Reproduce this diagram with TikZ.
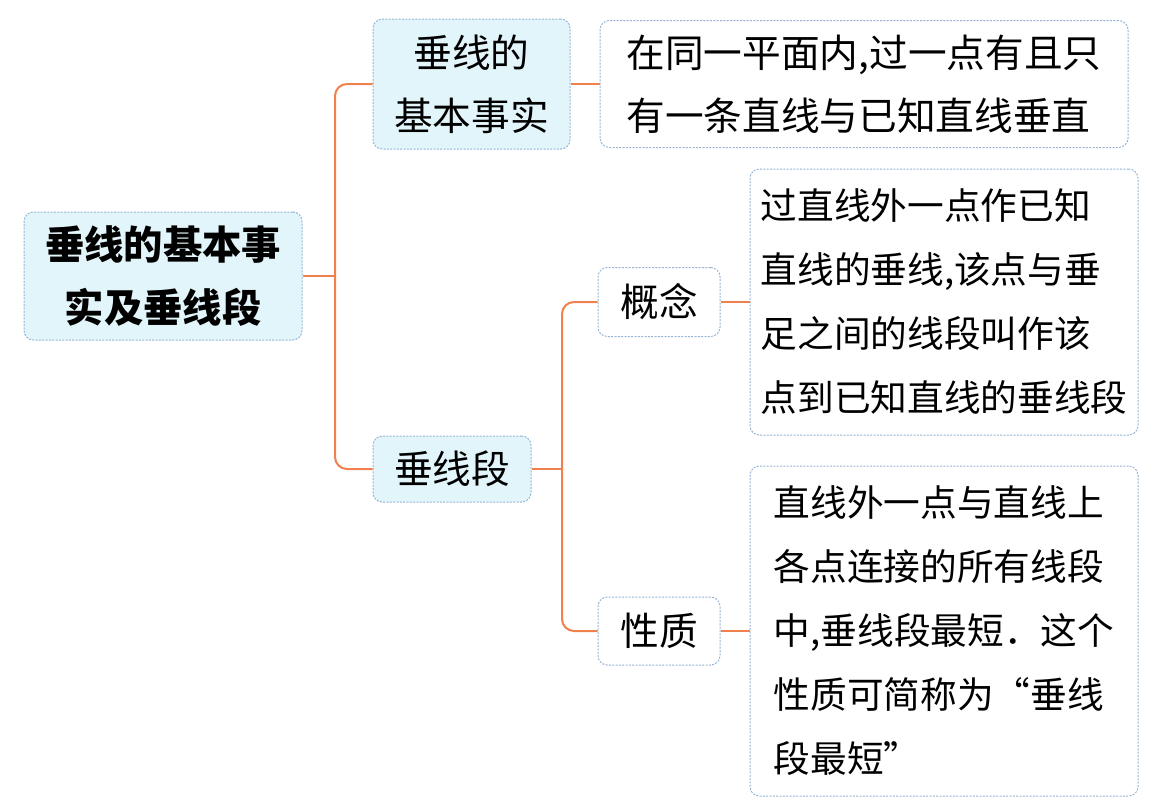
\documentclass[tikz,border=0pt]{standalone}
\usepackage{fontspec}
\setmainfont{Noto Sans CJK SC}
\tikzset{every picture/.style={line width=0.75pt}}
\definecolor{boxline}{RGB}{150,180,212}
\definecolor{boxfill}{RGB}{226,245,250}
\definecolor{branch}{RGB}{240,128,78}
\tikzset{
  topic/.style={draw=boxline, dash pattern=on 1.5pt off 1pt, rounded corners=7pt, fill=boxfill, align=center, inner sep=0pt, font=\fontsize{29}{47}\selectfont},
  leaf/.style={topic, fill=white, align=left, font=\fontsize{27.5}{48}\selectfont},
  conn/.style={draw=branch, line width=1.5pt, rounded corners=9pt}
}
\begin{document}
\begin{tikzpicture}[x=0.75pt,y=0.75pt,yscale=-1,xscale=1]
\useasboundingbox (0,0) rectangle (1174,803);

% Topic boxes
\node [topic, minimum width=208.5pt, minimum height=96pt, font=\fontsize{29.5}{47}\selectfont\bfseries] (root) at (163,276) {垂线的基本事\\实及垂线段};
\node [topic, minimum width=147.75pt, minimum height=97.5pt] (fact) at (471.5,84) {垂线的\\基本事实};
\node [topic, minimum width=118.5pt, minimum height=49.5pt] (seg) at (452,469) {垂线段};
\node [topic, fill=white, minimum width=91.5pt, minimum height=51.75pt] (concept) at (659,302) {概念};
\node [topic, fill=white, minimum width=91.5pt, minimum height=51pt] (prop) at (659,631) {性质};

% Leaf texts
\node [leaf, minimum width=396pt, minimum height=95.25pt, font=\fontsize{29}{47}\selectfont] (factdef) at (864,84) {在同一平面内,过一点有且只\\有一条直线与已知直线垂直};
\node [leaf, minimum width=291pt, minimum height=199.5pt] (conceptdef) at (944,302) {过直线外一点作已知\\直线的垂线,该点与垂\\足之间的线段叫作该\\点到已知直线的垂线段};
\node [leaf, minimum width=291pt, minimum height=247.5pt] (propdef) at (944,631) {直线外一点与直线上\\各点连接的所有线段\\中,垂线段最短．这个\\性质可简称为“垂线\\段最短”};

% Branches
\coordinate (trunk) at (335,276);
\coordinate (fork) at (562,469);
\draw [conn] (root.east) -- (trunk);
\draw [conn] (fact.west) -| (trunk) |- (seg.west);
\draw [conn] (seg.east) -- (fork);
\draw [conn] (concept.west) -| (fork) |- (prop.west);
\draw [conn] (fact.east) -- (factdef.west);
\draw [conn] (concept.east) -- (conceptdef.west);
\draw [conn] (prop.east) -- (propdef.west);

\end{tikzpicture}
\end{document}
